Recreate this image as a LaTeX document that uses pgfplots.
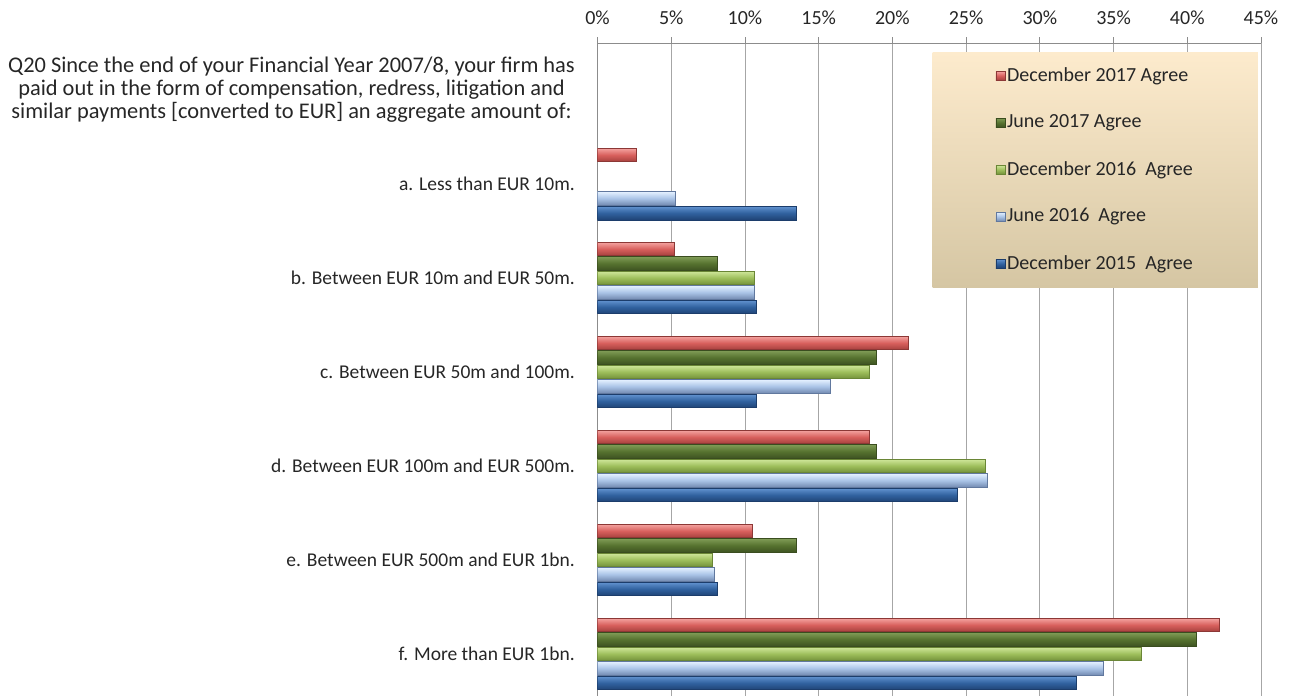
\documentclass[border=0pt]{standalone}
\usepackage{pgfplots}
\pgfplotsset{compat=1.18}
\usepackage{fontspec}
\setmainfont{Carlito}
\definecolor{redT}{HTML}{F4A3A1}\definecolor{redM}{HTML}{D8605D}\definecolor{redB}{HTML}{A5403D}\definecolor{redD}{HTML}{8C3836}
\definecolor{dgT}{HTML}{7E9B55}\definecolor{dgM}{HTML}{56722F}\definecolor{dgB}{HTML}{3E5322}\definecolor{dgD}{HTML}{3A4D1F}
\definecolor{lgT}{HTML}{CFE69A}\definecolor{lgM}{HTML}{9DBE5B}\definecolor{lgB}{HTML}{72903A}\definecolor{lgD}{HTML}{6A8636}
\definecolor{lbT}{HTML}{E3F0FF}\definecolor{lbM}{HTML}{A9C3E6}\definecolor{lbB}{HTML}{7289B0}\definecolor{lbD}{HTML}{61789E}
\definecolor{dbT}{HTML}{6192CF}\definecolor{dbM}{HTML}{31629F}\definecolor{dbB}{HTML}{1F4375}\definecolor{dbD}{HTML}{1C3D6B}
\definecolor{legT}{HTML}{FDEBCD}\definecolor{legB}{HTML}{D5C6A3}
\definecolor{gridgray}{HTML}{A6A6A6}\definecolor{axisgray}{HTML}{8C8C8C}
\pgfplotsset{
  redbar/.style={xbar, bar shift=29pt, draw=redD, line width=0.5pt, top color=redT, bottom color=redB, middle color=redM},
  dgbar/.style={xbar, bar shift=14.5pt, draw=dgD, line width=0.5pt, top color=dgT, bottom color=dgB, middle color=dgM},
  lgbar/.style={xbar, bar shift=0pt, draw=lgD, line width=0.5pt, top color=lgT, bottom color=lgB, middle color=lgM},
  lbbar/.style={xbar, bar shift=-14.5pt, draw=lbD, line width=0.5pt, top color=lbT, bottom color=lbB, middle color=lbM},
  dbbar/.style={xbar, bar shift=-29pt, draw=dbD, line width=0.5pt, top color=dbT, bottom color=dbB, middle color=dbM},
}
\newcommand{\hf}{\fontsize{22.4}{23}\selectfont}
\begin{document}
\fontsize{20}{24}\selectfont
\begin{tikzpicture}
\useasboundingbox (0,0) rectangle (1291pt,-696pt);
\begin{axis}[
  at={(597.5pt,-43pt)}, anchor=north west,
  scale only axis, width=663.5pt, height=658pt,
  xmin=0, xmax=45, ymin=-0.5, ymax=6.5,
  axis x line*=top, axis y line*=left,
  axis line style={draw=axisgray, line width=0.8pt},
  xtick={0,5,...,45},
  xticklabels={0\%,5\%,10\%,15\%,20\%,25\%,30\%,35\%,40\%,45\%},
  xticklabel style={font=\fontsize{20}{24}\selectfont, text=black!85, yshift=5pt},
  tick align=outside, major tick length=6pt,
  xtick style={draw=axisgray, line width=0.8pt},
  xmajorgrids, grid style={draw=gridgray, line width=0.8pt},
  ytick={0,...,6},
  yticklabels={f. More than EUR 1bn.,e. Between EUR 500m and EUR 1bn.,d. Between EUR 100m and EUR 500m.,c. Between EUR 50m and 100m.,b. Between EUR 10m and EUR 50m.,a. Less than EUR 10m.,{\hf Q20 Since the end of your Financial Year 2007/8, your firm has\\\hf paid out in the form of compensation, redress, litigation and\\\hf similar payments [converted to EUR] an aggregate amount of:}},
  yticklabel style={align=center, font=\fontsize{19.5}{23}\selectfont, text=black!85, inner sep=0pt, xshift=-16.5pt},
  ytick style={draw=none},
  bar width=13.5pt,
  legend cell align=left,
  legend image code/.code={\draw[#1, line width=0.5pt] (0pt,-4.5pt) rectangle (9pt,4.5pt);},
  legend style={at={(0.9955,0.9863)}, anchor=north east, draw=none,
    top color=legT, bottom color=legB,
    inner xsep=63pt, inner ysep=0pt, row sep=0pt,
    font=\fontsize{20}{24}\selectfont, text=black!85,
    nodes={inner ysep=0pt, minimum height=47pt},
    /tikz/every even column/.append style={column sep=4pt}},
]
\addlegendimage{redbar}\addlegendentry{December 2017 Agree}
\addlegendimage{dgbar}\addlegendentry{June 2017 Agree}
\addlegendimage{lgbar}\addlegendentry{December 2016\ \ Agree}
\addlegendimage{lbbar}\addlegendentry{June 2016\ \ Agree}
\addlegendimage{dbbar}\addlegendentry{December 2015\ \ Agree}
% December 2017
\addplot[redbar, forget plot] coordinates {(2.6,5)};
\addplot[redbar, forget plot] coordinates {(5.2,4)};
\addplot[redbar, forget plot] coordinates {(21.1,3)};
\addplot[redbar, forget plot] coordinates {(18.4,2)};
\addplot[redbar, forget plot] coordinates {(10.5,1)};
\addplot[redbar, forget plot] coordinates {(42.2,0)};
% June 2017
\addplot[dgbar, forget plot] coordinates {(8.1,4)};
\addplot[dgbar, forget plot] coordinates {(18.9,3)};
\addplot[dgbar, forget plot] coordinates {(18.9,2)};
\addplot[dgbar, forget plot] coordinates {(13.5,1)};
\addplot[dgbar, forget plot] coordinates {(40.6,0)};
% December 2016
\addplot[lgbar, forget plot] coordinates {(10.6,4)};
\addplot[lgbar, forget plot] coordinates {(18.4,3)};
\addplot[lgbar, forget plot] coordinates {(26.3,2)};
\addplot[lgbar, forget plot] coordinates {(7.8,1)};
\addplot[lgbar, forget plot] coordinates {(36.9,0)};
% June 2016
\addplot[lbbar, forget plot] coordinates {(5.3,5)};
\addplot[lbbar, forget plot] coordinates {(10.6,4)};
\addplot[lbbar, forget plot] coordinates {(15.8,3)};
\addplot[lbbar, forget plot] coordinates {(26.4,2)};
\addplot[lbbar, forget plot] coordinates {(7.9,1)};
\addplot[lbbar, forget plot] coordinates {(34.3,0)};
% December 2015
\addplot[dbbar, forget plot] coordinates {(13.5,5)};
\addplot[dbbar, forget plot] coordinates {(10.8,4)};
\addplot[dbbar, forget plot] coordinates {(10.8,3)};
\addplot[dbbar, forget plot] coordinates {(24.4,2)};
\addplot[dbbar, forget plot] coordinates {(8.1,1)};
\addplot[dbbar, forget plot] coordinates {(32.5,0)};
\end{axis}
\end{tikzpicture}
\end{document}
